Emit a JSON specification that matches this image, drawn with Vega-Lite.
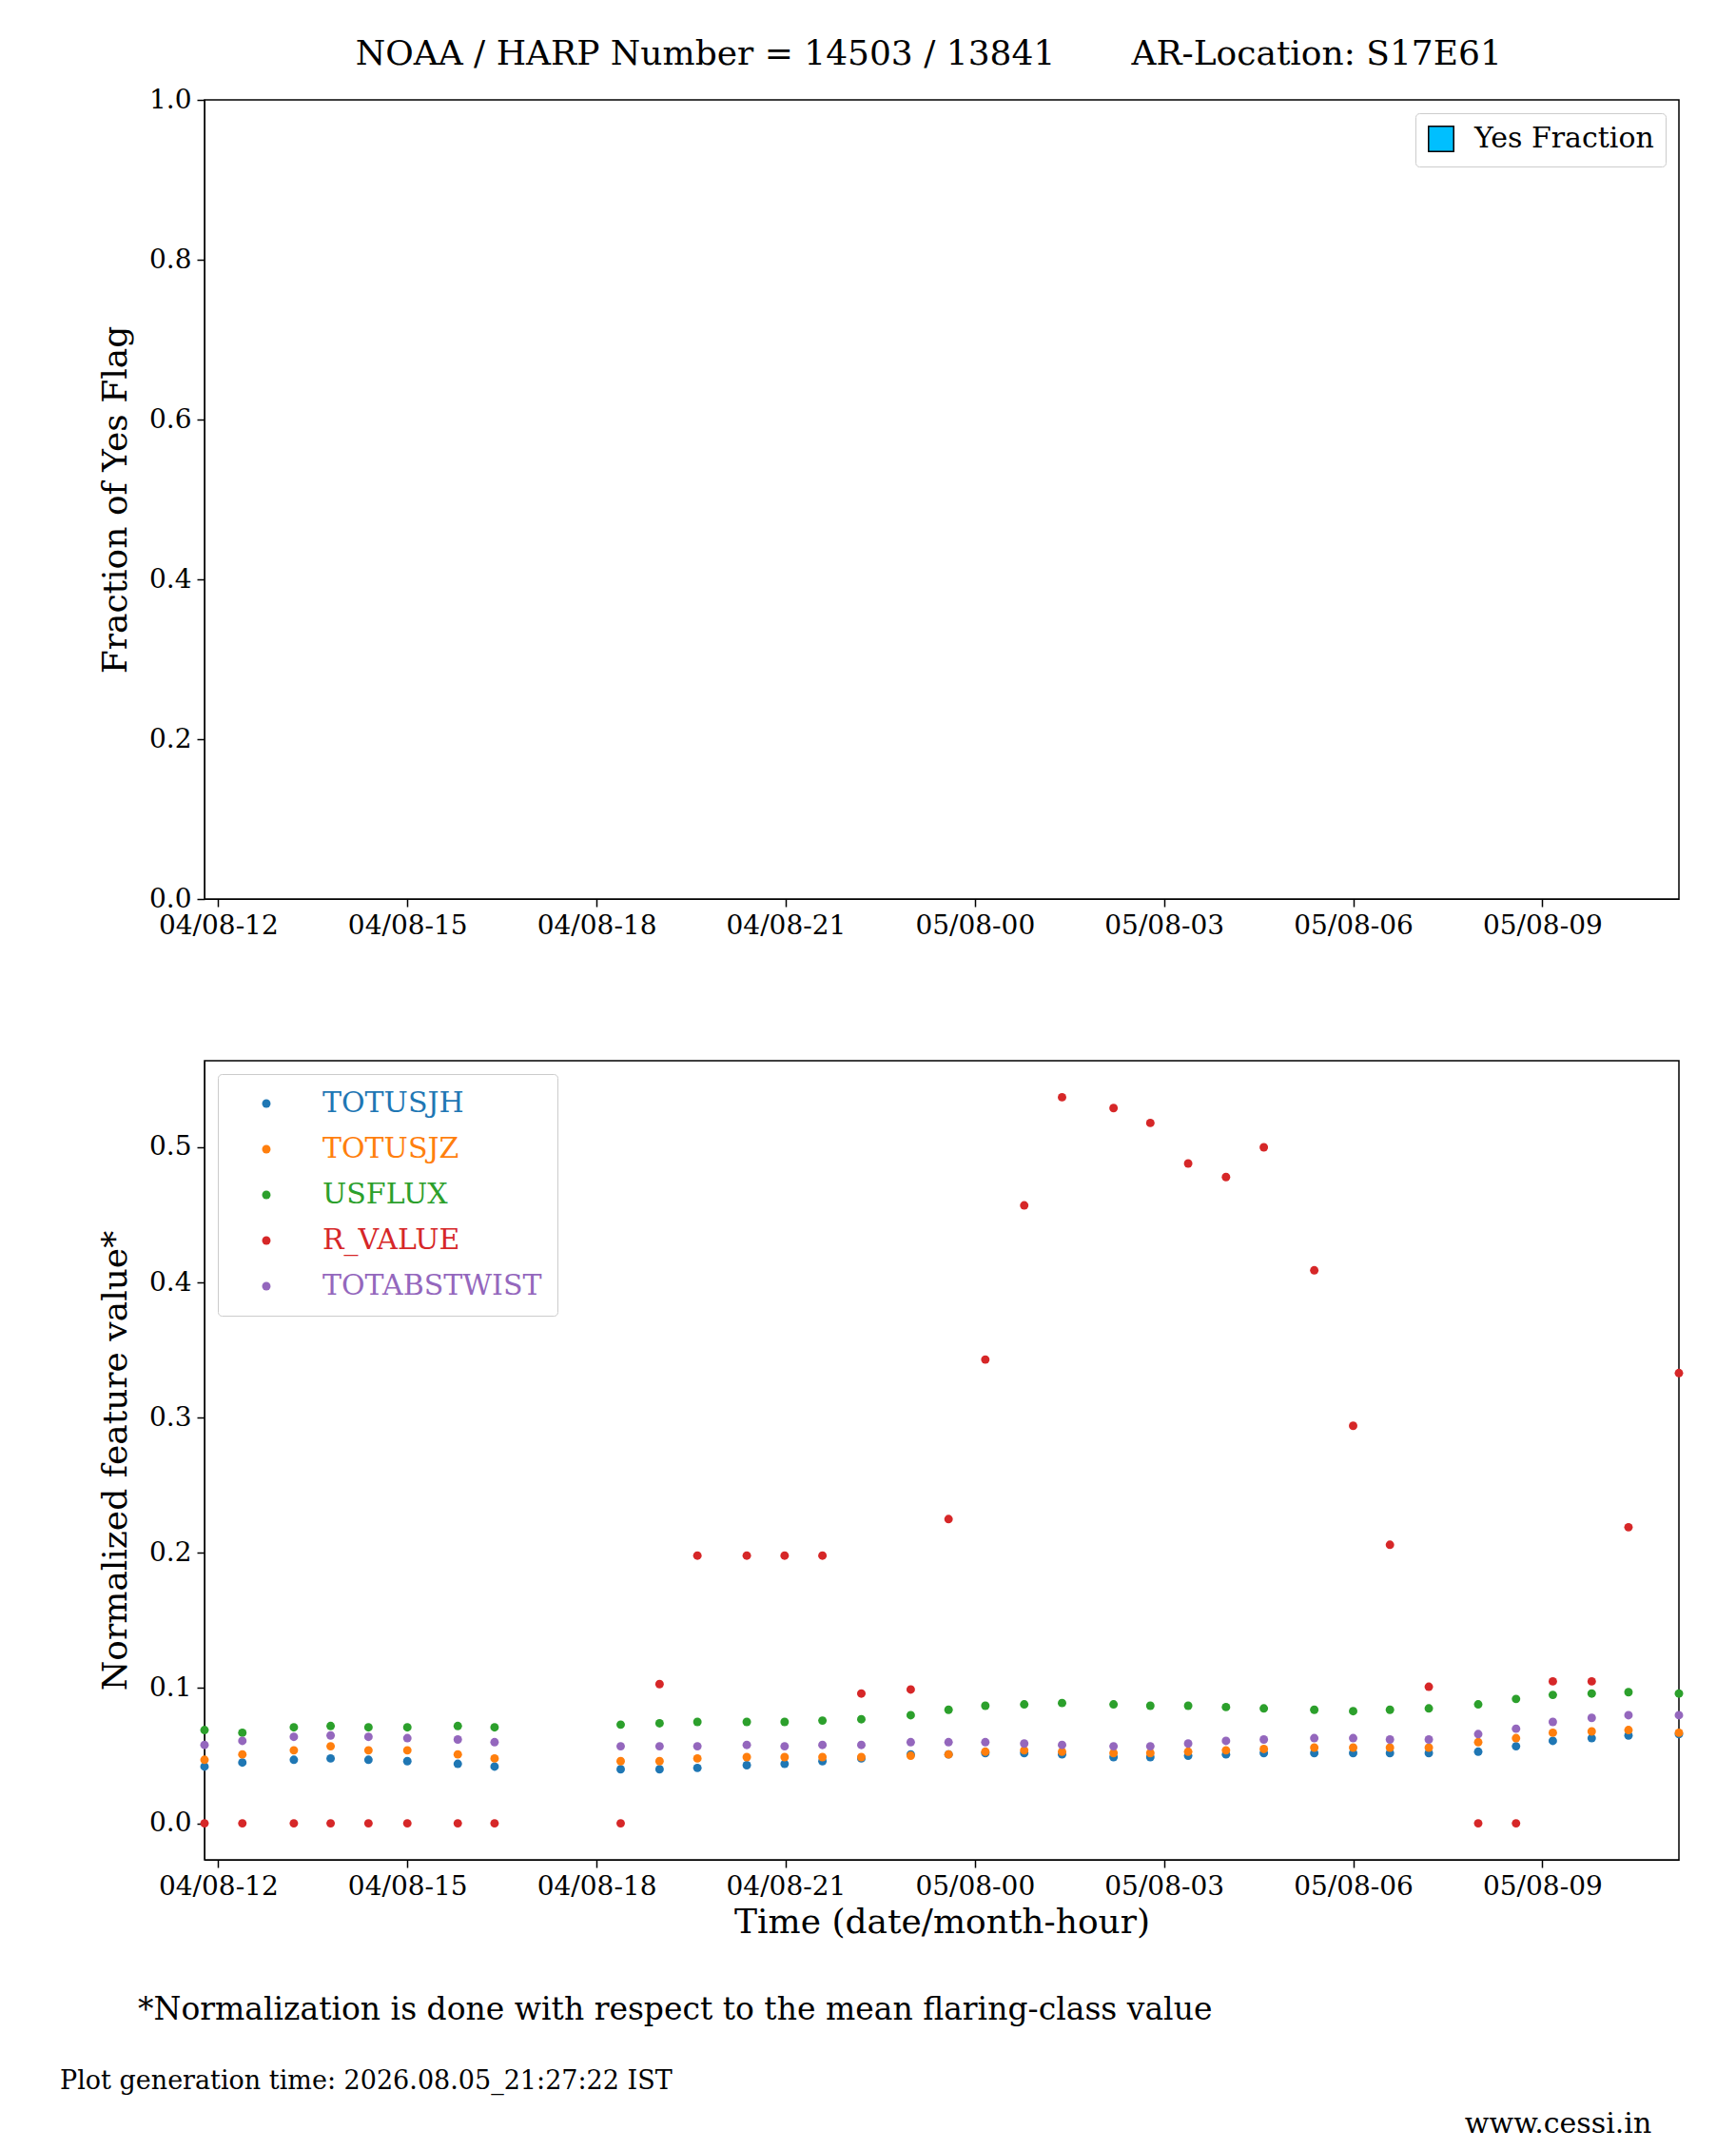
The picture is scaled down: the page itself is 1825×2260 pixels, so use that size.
{
"$schema":"https://vega.github.io/schema/vega-lite/v6.json",
"background":"white",
"padding":{"left":62,"top":39,"right":40,"bottom":0},
"config":{"font":"DejaVu Serif","view":{"stroke":"black","strokeWidth":1.5},
 "axis":{"labelFont":"DejaVu Serif","titleFont":"DejaVu Serif","labelFontSize":28,"titleFontSize":36,"titleFontWeight":"normal","labelColor":"black","titleColor":"black","tickColor":"black","domainColor":"black","tickSize":8,"tickWidth":1.5,"grid":false,"labelPadding":6},
 "legend":{"labelFont":"DejaVu Serif","labelFontSize":30,"labelLimit":400}},
"title":{"text":"NOAA / HARP Number = 14503 / 13841\u00a0\u00a0\u00a0\u00a0\u00a0\u00a0\u00a0AR-Location: S17E61","fontSize":36,"fontWeight":"normal","font":"DejaVu Serif","anchor":"middle","offset":14,"dx":60},
"resolve":{"scale":{"color":"independent"},"legend":{"color":"independent"}},
"datasets":{"d":[
{"t":"2026-08-04T11:47","TOTUSJH":0.042,"TOTUSJZ":0.047,"USFLUX":0.069,"R_VALUE":0,"TOTABSTWIST":0.058},
{"t":"2026-08-04T12:23","TOTUSJH":0.045,"TOTUSJZ":0.051,"USFLUX":0.067,"R_VALUE":0,"TOTABSTWIST":0.061},
{"t":"2026-08-04T13:12","TOTUSJH":0.047,"TOTUSJZ":0.054,"USFLUX":0.071,"R_VALUE":0,"TOTABSTWIST":0.064},
{"t":"2026-08-04T13:47","TOTUSJH":0.048,"TOTUSJZ":0.057,"USFLUX":0.072,"R_VALUE":0,"TOTABSTWIST":0.065},
{"t":"2026-08-04T14:23","TOTUSJH":0.047,"TOTUSJZ":0.054,"USFLUX":0.071,"R_VALUE":0,"TOTABSTWIST":0.064},
{"t":"2026-08-04T15:00","TOTUSJH":0.046,"TOTUSJZ":0.054,"USFLUX":0.071,"R_VALUE":0,"TOTABSTWIST":0.063},
{"t":"2026-08-04T15:48","TOTUSJH":0.044,"TOTUSJZ":0.051,"USFLUX":0.072,"R_VALUE":0,"TOTABSTWIST":0.062},
{"t":"2026-08-04T16:23","TOTUSJH":0.042,"TOTUSJZ":0.048,"USFLUX":0.071,"R_VALUE":0,"TOTABSTWIST":0.060},
{"t":"2026-08-04T18:23","TOTUSJH":0.040,"TOTUSJZ":0.046,"USFLUX":0.073,"R_VALUE":0,"TOTABSTWIST":0.057},
{"t":"2026-08-04T19:00","TOTUSJH":0.040,"TOTUSJZ":0.046,"USFLUX":0.074,"R_VALUE":0.103,"TOTABSTWIST":0.057},
{"t":"2026-08-04T19:36","TOTUSJH":0.041,"TOTUSJZ":0.048,"USFLUX":0.075,"R_VALUE":0.198,"TOTABSTWIST":0.057},
{"t":"2026-08-04T20:23","TOTUSJH":0.043,"TOTUSJZ":0.049,"USFLUX":0.075,"R_VALUE":0.198,"TOTABSTWIST":0.058},
{"t":"2026-08-04T20:59","TOTUSJH":0.044,"TOTUSJZ":0.049,"USFLUX":0.075,"R_VALUE":0.198,"TOTABSTWIST":0.057},
{"t":"2026-08-04T21:35","TOTUSJH":0.046,"TOTUSJZ":0.049,"USFLUX":0.076,"R_VALUE":0.198,"TOTABSTWIST":0.058},
{"t":"2026-08-04T22:12","TOTUSJH":0.048,"TOTUSJZ":0.049,"USFLUX":0.077,"R_VALUE":0.096,"TOTABSTWIST":0.058},
{"t":"2026-08-04T22:59","TOTUSJH":0.051,"TOTUSJZ":0.050,"USFLUX":0.080,"R_VALUE":0.099,"TOTABSTWIST":0.060},
{"t":"2026-08-04T23:35","TOTUSJH":0.051,"TOTUSJZ":0.051,"USFLUX":0.084,"R_VALUE":0.225,"TOTABSTWIST":0.060},
{"t":"2026-08-05T00:10","TOTUSJH":0.052,"TOTUSJZ":0.053,"USFLUX":0.087,"R_VALUE":0.343,"TOTABSTWIST":0.060},
{"t":"2026-08-05T00:47","TOTUSJH":0.052,"TOTUSJZ":0.054,"USFLUX":0.088,"R_VALUE":0.457,"TOTABSTWIST":0.059},
{"t":"2026-08-05T01:23","TOTUSJH":0.051,"TOTUSJZ":0.053,"USFLUX":0.089,"R_VALUE":0.537,"TOTABSTWIST":0.058},
{"t":"2026-08-05T02:12","TOTUSJH":0.049,"TOTUSJZ":0.052,"USFLUX":0.088,"R_VALUE":0.529,"TOTABSTWIST":0.057},
{"t":"2026-08-05T02:47","TOTUSJH":0.049,"TOTUSJZ":0.052,"USFLUX":0.087,"R_VALUE":0.518,"TOTABSTWIST":0.057},
{"t":"2026-08-05T03:23","TOTUSJH":0.050,"TOTUSJZ":0.053,"USFLUX":0.087,"R_VALUE":0.488,"TOTABSTWIST":0.059},
{"t":"2026-08-05T03:59","TOTUSJH":0.051,"TOTUSJZ":0.054,"USFLUX":0.086,"R_VALUE":0.478,"TOTABSTWIST":0.061},
{"t":"2026-08-05T04:35","TOTUSJH":0.052,"TOTUSJZ":0.055,"USFLUX":0.085,"R_VALUE":0.500,"TOTABSTWIST":0.062},
{"t":"2026-08-05T05:23","TOTUSJH":0.052,"TOTUSJZ":0.056,"USFLUX":0.084,"R_VALUE":0.409,"TOTABSTWIST":0.063},
{"t":"2026-08-05T06:00","TOTUSJH":0.052,"TOTUSJZ":0.056,"USFLUX":0.083,"R_VALUE":0.294,"TOTABSTWIST":0.063},
{"t":"2026-08-05T06:35","TOTUSJH":0.052,"TOTUSJZ":0.056,"USFLUX":0.084,"R_VALUE":0.206,"TOTABSTWIST":0.062},
{"t":"2026-08-05T07:12","TOTUSJH":0.052,"TOTUSJZ":0.056,"USFLUX":0.085,"R_VALUE":0.101,"TOTABSTWIST":0.062},
{"t":"2026-08-05T07:59","TOTUSJH":0.053,"TOTUSJZ":0.060,"USFLUX":0.088,"R_VALUE":0,"TOTABSTWIST":0.066},
{"t":"2026-08-05T08:35","TOTUSJH":0.057,"TOTUSJZ":0.063,"USFLUX":0.092,"R_VALUE":0,"TOTABSTWIST":0.070},
{"t":"2026-08-05T09:10","TOTUSJH":0.061,"TOTUSJZ":0.067,"USFLUX":0.095,"R_VALUE":0.105,"TOTABSTWIST":0.075},
{"t":"2026-08-05T09:47","TOTUSJH":0.063,"TOTUSJZ":0.068,"USFLUX":0.096,"R_VALUE":0.105,"TOTABSTWIST":0.078},
{"t":"2026-08-05T10:22","TOTUSJH":0.065,"TOTUSJZ":0.069,"USFLUX":0.097,"R_VALUE":0.219,"TOTABSTWIST":0.080},
{"t":"2026-08-05T11:10","TOTUSJH":0.066,"TOTUSJZ":0.067,"USFLUX":0.096,"R_VALUE":0.333,"TOTABSTWIST":0.080}
]},
"spacing":126,
"vconcat":[
{"width":1550,"height":840,"data":{"name":"d"},
 "mark":{"type":"point","filled":true,"opacity":0},
 "encoding":{
  "x":{"field":"t","type":"temporal","scale":{"domain":[{"year":2026,"month":8,"date":4,"hours":11,"minutes":47},{"year":2026,"month":8,"date":5,"hours":11,"minutes":10}]},
   "axis":{"title":null,"format":"%d/%m-%H","values":[{"year":2026,"month":8,"date":4,"hours":12},{"year":2026,"month":8,"date":4,"hours":15},{"year":2026,"month":8,"date":4,"hours":18},{"year":2026,"month":8,"date":4,"hours":21},{"year":2026,"month":8,"date":5,"hours":0},{"year":2026,"month":8,"date":5,"hours":3},{"year":2026,"month":8,"date":5,"hours":6},{"year":2026,"month":8,"date":5,"hours":9}]}},
  "y":{"datum":0.5,"type":"quantitative","scale":{"domain":[0,1]},"axis":{"title":"Fraction of Yes Flag","format":".1f","values":[0,0.2,0.4,0.6,0.8,1.0],"titlePadding":16}},
  "color":{"datum":"Yes Fraction","scale":{"range":["#00bfff"]},"legend":{"title":null,"orient":"top-right","symbolType":"square","symbolSize":700,"symbolOpacity":1,"symbolStrokeColor":"black","symbolStrokeWidth":1.5,"fillColor":"white","strokeColor":"#cccccc","padding":12,"cornerRadius":4,"offset":14,"labelOffset":20}}
 }},
{"width":1550,"height":840,
 "layer":[
 {"data":{"name":"d"},
 "transform":[{"fold":["TOTUSJH","TOTUSJZ","USFLUX","R_VALUE","TOTABSTWIST"],"as":["feature","value"]}],
 "mark":{"type":"circle","size":80,"opacity":1,"clip":false},
 "encoding":{
  "x":{"field":"t","type":"temporal","scale":{"domain":[{"year":2026,"month":8,"date":4,"hours":11,"minutes":47},{"year":2026,"month":8,"date":5,"hours":11,"minutes":10}]},
   "axis":{"title":"Time (date/month-hour)","format":"%d/%m-%H","titlePadding":6,"values":[{"year":2026,"month":8,"date":4,"hours":12},{"year":2026,"month":8,"date":4,"hours":15},{"year":2026,"month":8,"date":4,"hours":18},{"year":2026,"month":8,"date":4,"hours":21},{"year":2026,"month":8,"date":5,"hours":0},{"year":2026,"month":8,"date":5,"hours":3},{"year":2026,"month":8,"date":5,"hours":6},{"year":2026,"month":8,"date":5,"hours":9}]}},
  "y":{"field":"value","type":"quantitative","scale":{"domain":[-0.027,0.564],"nice":false,"zero":false},"axis":{"title":"Normalized feature value*","format":".1f","values":[0,0.1,0.2,0.3,0.4,0.5],"titlePadding":16}},
  "color":{"field":"feature","type":"nominal","scale":{"domain":["TOTUSJH","TOTUSJZ","USFLUX","R_VALUE","TOTABSTWIST"],"range":["#1f77b4","#ff7f0e","#2ca02c","#d62728","#9467bd"]},
   "legend":{"title":null,"orient":"top-left","symbolType":"circle","symbolSize":80,"labelFontSize":30,"rowPadding":18,"symbolOffset":20,"labelOffset":44,"padding":16,"fillColor":"white","strokeColor":"#cccccc","cornerRadius":4,"offset":14,
    "labelColor":{"expr":"datum.label==='TOTUSJH'?'#1f77b4':datum.label==='TOTUSJZ'?'#ff7f0e':datum.label==='USFLUX'?'#2ca02c':datum.label==='R_VALUE'?'#d62728':'#9467bd'"}}}
 }},
  {"data":{"values":[{"s":"*Normalization is done with respect to the mean flaring-class value"}]},
   "mark":{"type":"text","fontSize":33,"align":"left","font":"DejaVu Serif"},
   "encoding":{"text":{"field":"s"},"x":{"value":-70},"y":{"value":998}}},
  {"data":{"values":[{"s":"Plot generation time: 2026.08.05_21:27:22 IST"}]},
   "mark":{"type":"text","fontSize":27,"align":"left","font":"DejaVu Serif"},
   "encoding":{"text":{"field":"s"},"x":{"value":-152},"y":{"value":1073}}},
  {"data":{"values":[{"s":"www.cessi.in"}]},
   "mark":{"type":"text","fontSize":30,"align":"center","font":"DejaVu Serif"},
   "encoding":{"text":{"field":"s"},"x":{"value":1423},"y":{"value":1118}}}
 ]}
]
}
